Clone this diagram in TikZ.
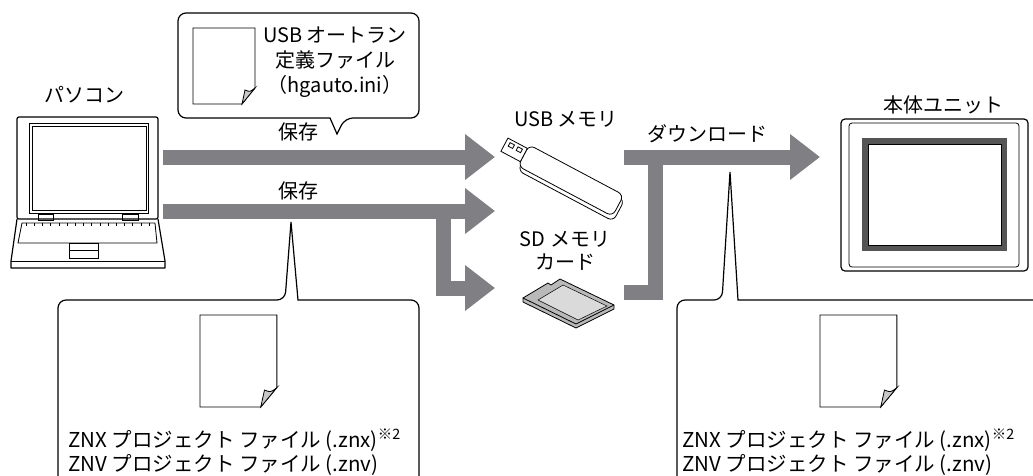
\documentclass[tikz,border=0pt]{standalone}
\usepackage{fontspec}
\setmainfont{Noto Sans CJK JP}
\usetikzlibrary{arrows.meta}

\definecolor{flowgray}{RGB}{128,128,132}
\definecolor{flapgray}{RGB}{200,200,200}
\definecolor{cardgray}{RGB}{185,185,185}
\definecolor{cardlight}{RGB}{218,218,218}
\definecolor{bezelgray}{RGB}{85,85,85}

\begin{document}
\begin{tikzpicture}[
        x=1pt, y=-1pt,
        font=\fontsize{20}{25}\selectfont,
        flow/.style={
            -{Triangle[length=30pt,width=44pt]},
            draw=flowgray,
            line width=15pt
        },
        callout/.style={
            draw,
            line width=1.2pt,
            fill=white
        },
        outline/.style={
            draw,
            line width=0.8pt
        },
        docpage/.pic={
            \draw[outline, fill=white] (0,0) -- (62,0) -- (62,60) -- (49,76) -- (0,76) -- cycle;
            \draw[outline, fill=flapgray] (62,60) .. controls (57,64) .. (52,62) -- (49,76) -- cycle;
        }
    ]

    \useasboundingbox (0,0) rectangle (1033,475);
    \clip (0,0) rectangle (1033,475);

    % Callouts
    \draw[callout] (330,118) [rounded corners=8] -- (178,118) -- (178,13) -- (419,13) -- (419,118) -- (345,118) [sharp corners] -- (337,134) -- cycle;
    \pic at (193,28) {docpage};
    \node[align=center] (autorun) at (335,62) {USB オートラン\\定義ファイル\\（hgauto.ini）};

    \draw[callout] (298,300) [rounded corners=8] -- (419,300) -- (419,500) -- (58,500) -- (58,300) -- (285,300) [sharp corners] -- (291,222) -- cycle;
    \pic[xscale=1.24, yscale=1.21] at (200,315) {docpage};
    \node[anchor=north west, inner sep=0pt, align=left, font=\fontsize{20.5}{24}\selectfont] (pcfiles) at (68,429)
        {ZNX プロジェクト ファイル (.znx)\textsuperscript{※2}\\ZNV プロジェクト ファイル (.znv)};

    \draw[callout] (738,300) [rounded corners=8] -- (1060,300) -- (1060,500) -- (677,500) -- (677,300) -- (722,300) [sharp corners] -- (730,172) -- cycle;
    \pic[xscale=1.24, yscale=1.21] at (820,315) {docpage};
    \node[anchor=north west, inner sep=0pt, align=left, font=\fontsize{20.5}{24}\selectfont] (unitfiles) at (682,429)
        {ZNX プロジェクト ファイル (.znx)\textsuperscript{※2}\\ZNV プロジェクト ファイル (.znv)};

    % Laptop
    \node (pc-label) at (84,95) {パソコン};
    \draw[line width=1.2pt, rounded corners=2] (17,117) rectangle (158,219);
    \draw[outline] (29,123) rectangle (148,213);
    \draw[outline] (32,126) rectangle (146,210);
    \draw[outline] (38,214) rectangle (53,220);
    \draw[outline] (122,214) rectangle (138,220);
    \draw[line width=1.2pt, line join=round] (17,219) -- (11,261) -- (11,268) -- (165,268) -- (165,261) -- (158,219);
    \draw[outline] (11,261) -- (165,261);
    \draw[outline] (22,223) -- (155,223) -- (157,243) -- (18,243) -- cycle;
    \foreach \k in {0,...,15}
        \draw[line width=0.6pt] ({26+\k*8.2},223) -- ++(0,3);
    \draw[outline] (69,243) rectangle (98,258);
    \draw[outline] (69,250) -- (98,250);

    % USB memory
    \node (usb-label) at (566,119) {USB メモリ};
    \begin{scope}[shift={(566,178)}, rotate=-28]
        \draw[outline, fill=white, rounded corners=6] (-46,-8) rectangle (62,16);
        \draw[outline, fill=white, rounded corners=6] (-48,-12) rectangle (59,12);
        \draw[outline, fill=white] (-70,-8) rectangle (-48,7);
        \draw[outline] (-66,-5) rectangle (-61,-1);
        \draw[outline] (-57,-5) rectangle (-52,-1);
    \end{scope}

    % SD memory card
    \node[align=center, font=\fontsize{20}{23}\selectfont] (sd-label) at (565,251) {SD メモリ\\カード};
    \draw[outline, fill=cardgray, line join=round] (523,298) -- (523,302) -- (576,328) -- (614,309) -- (614,305) -- cycle;
    \draw[outline, fill=cardgray, line join=round] (523,298) -- (548,283) -- (551,285) -- (560,279) -- (614,305) -- (576,324) -- cycle;
    \draw[line width=0.5pt, fill=cardlight] (538,300) -- (563,285) -- (607,306) -- (578,320) -- cycle;

    % Main unit
    \node (unit-label) at (943,105) {本体ユニット};
    \draw[line width=1.2pt, rounded corners=4] (841,119) rectangle (1028,271);
    \draw[outline, rounded corners=3] (849,123) rectangle (1019,267);
    \fill[bezelgray] (862,138) rectangle (1007,251);
    \draw[outline, fill=white] (868,144) rectangle (1001,245);

    % Arrows
    \coordinate (pc-out1) at (163,157);
    \coordinate (pc-out2) at (163,211);
    \coordinate (usb-in) at (495,157);
    \coordinate (sd-in) at (495,288);
    \coordinate (mid-in) at (495,211);
    \coordinate (split) at (443.5,211);
    \coordinate (card-out) at (624,292);
    \coordinate (usb-out) at (655,157);
    \coordinate (unit-in) at (820,157);

    \draw[flow] (pc-out1) -- (usb-in);
    \draw[flow] (pc-out2) -- (mid-in);
    \draw[flow] (split) |- (sd-in);
    \draw[flow] (card-out) -| (usb-out) -- (unit-in);
    \fill[flowgray] (624,149.5) rectangle (656,164.5);

    \node (save-usb) at (298,132) {保存};
    \node (save-sd) at (298,191) {保存};
    \node (dl-label) at (707,134) {ダウンロード};

    \end{tikzpicture}
\end{document}
